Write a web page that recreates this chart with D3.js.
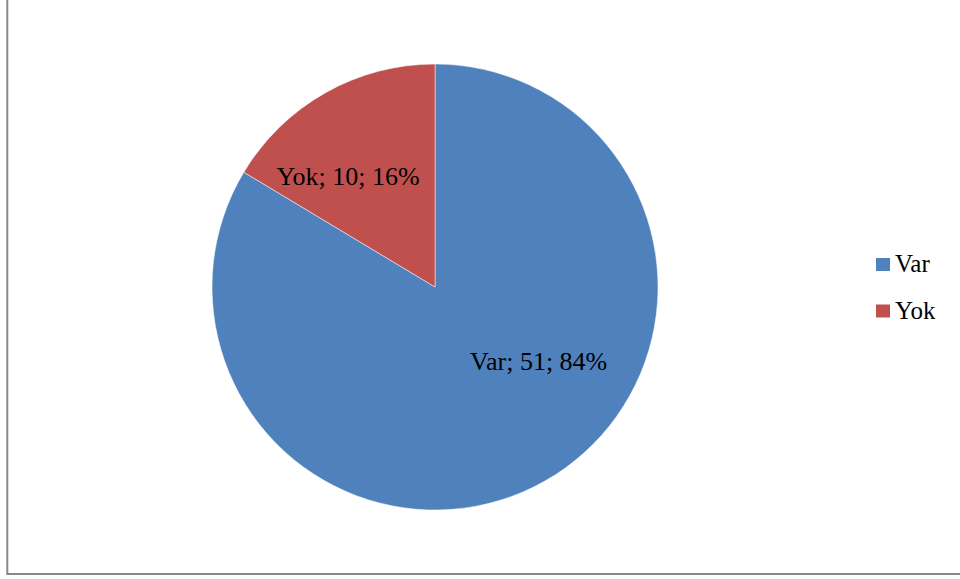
<!DOCTYPE html>
<html>
<head>
<meta charset="utf-8">
<script src="https://cdn.jsdelivr.net/npm/d3@7"></script>
<style>
  body { margin: 0; background: #fff; }
</style>
</head>
<body>
<div id="chart"></div>
<script>
(function () {

  var categories = ["Var", "Yok"]
  var values = [51, 10]
  var percents = ["84%", "16%"]
  var colors = ["#4F81BD", "#C0504D"]

  var width = 960,
      height = 579

  var serif = "'Liberation Serif'"

  var svg = d3.select("#chart").append("svg")
      .attr("width", width)
      .attr("height", height)

  // outer chart border
  svg.append("rect")
      .attr("x", 7.3)
      .attr("y", -5)
      .attr("width", 970)
      .attr("height", 579)
      .attr("fill", "none")
      .attr("stroke", "#898989")
      .attr("stroke-width", 2)

  var cx = 435, cy = 287, radius = 223

  var data = categories.map(function (c, i) {
    return { name: c, value: values[i], pct: percents[i], color: colors[i] }
  })

  var pie = d3.pie()
      .sort(null)
      .value(function (d) { return d.value })

  var arc = d3.arc()
      .innerRadius(0)
      .outerRadius(radius)

  var g = svg.append("g")
      .attr("transform", "translate(" + cx + "," + cy + ")")

  var arcs = pie(data)

  g.selectAll(".slice")
    .data(arcs)
    .enter().append("path")
    .attr("class", "slice")
    .attr("d", arc)
    .attr("fill", function (d) { return d.data.color })
    .attr("stroke", "#fff")
    .attr("stroke-width", 0.5)

  // label placement (best fit, as fraction of radius)
  var labelShift = { Var: [0.465, 0.33], Yok: [-0.39, -0.50] }

  g.selectAll(".slice-label")
    .data(arcs)
    .enter().append("text")
    .attr("class", "slice-label")
    .attr("x", function (d) { return labelShift[d.data.name][0] * radius })
    .attr("y", function (d) { return labelShift[d.data.name][1] * radius })
    .attr("dy", "0.35em")
    .attr("text-anchor", "middle")
    .style("font-family", serif)
    .style("font-size", "26px")
    .text(function (d) { return d.data.name + "; " + d.data.value + "; " + d.data.pct })

  // legend
  var legend = svg.selectAll(".legend")
    .data(data)
    .enter().append("g")
    .attr("class", "legend")
    .attr("transform", function (d, i) { return "translate(876," + (258 + i * 46.5) + ")" })

  legend.append("rect")
    .attr("width", 14)
    .attr("height", 13)
    .attr("fill", function (d) { return d.color })

  legend.append("text")
    .attr("x", 19)
    .attr("y", 14)
    .style("font-family", serif)
    .style("font-size", "25px")
    .text(function (d) { return d.name })

})()
</script>
</body>
</html>
